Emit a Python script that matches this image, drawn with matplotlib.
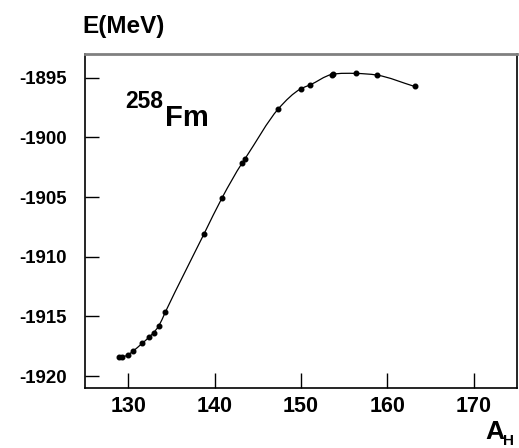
import numpy as np
import matplotlib
matplotlib.use("Agg")
import matplotlib.pyplot as plt
from matplotlib.path import Path
from matplotlib.patches import PathPatch

plt.rcParams['font.family'] = ['Liberation Sans', 'DejaVu Sans']
plt.rcParams['font.weight'] = 'bold'
plt.rcParams['axes.unicode_minus'] = False

# fragment mass number and energy
a_heavy = [128.96, 129.27, 129.96, 130.54, 131.62, 132.40, 132.94, 133.52, 134.30,
           138.79, 140.87, 143.18, 143.53, 147.39, 149.97, 151.00, 153.55, 153.70,
           156.32, 158.79, 163.14]
energy = [-1918.39, -1918.40, -1918.22, -1917.92, -1917.25, -1916.75, -1916.35, -1915.82, -1914.63,
          -1908.06, -1905.05, -1902.15, -1901.77, -1897.59, -1895.92, -1895.61, -1894.72, -1894.70,
          -1894.63, -1894.77, -1895.72]
xticks = [130, 140, 150, 160, 170]
yticks = [-1920, -1915, -1910, -1905, -1900, -1895]


def smooth_path(x, y):
    # cubic hermite segments drawn as bezier curves through the points
    x = np.asarray(x, float)
    y = np.asarray(y, float)
    m = np.gradient(y, x)
    verts = [(x[0], y[0])]
    codes = [Path.MOVETO]
    for i in range(len(x) - 1):
        h = x[i + 1] - x[i]
        verts += [(x[i] + h / 3, y[i] + m[i] * h / 3),
                  (x[i + 1] - h / 3, y[i + 1] - m[i + 1] * h / 3),
                  (x[i + 1], y[i + 1])]
        codes += [Path.CURVE4] * 3
    return Path(verts, codes)


fig = plt.figure(figsize=(5.19, 4.48), dpi=100)
ax = fig.add_axes([0.1638, 0.1339, 0.8323, 0.7456])

ax.add_patch(PathPatch(smooth_path(a_heavy, energy), facecolor='none', edgecolor='black', lw=0.9))
ax.plot(a_heavy, energy, 'o', color='black', ms=3.3, mec='black')

ax.set_xlim(125, 175)
ax.set_ylim(-1921, -1893)
ax.set_xticks(xticks)
ax.set_yticks(yticks)
ax.tick_params(axis='x', direction='in', length=11, width=1, pad=6, labelsize=15.5, top=False)
ax.tick_params(axis='y', direction='in', length=10, width=1, pad=13, labelsize=13.4, right=False)

for s in ['left', 'bottom', 'right']:
    ax.spines[s].set_linewidth(1.2)
    ax.spines[s].set_color('black')
ax.spines['top'].set_color('#808080')
ax.spines['top'].set_linewidth(2)

fig.text(82 / 519, 1 - 33 / 448, 'E(MeV)', fontsize=17.5, fontweight='bold', ha='left', va='baseline')
fig.text(125 / 519, 1 - 108 / 448, '258', fontsize=16.5, fontweight='bold', ha='left', va='baseline')
fig.text(165 / 519, 1 - 126 / 448, 'Fm', fontsize=21, fontweight='bold', ha='left', va='baseline')
fig.text(485 / 519, 1 - 439 / 448, 'A', fontsize=19, fontweight='bold', ha='left', va='baseline')
fig.text(503 / 519, 1 - 445 / 448, 'H', fontsize=11, fontweight='bold', ha='left', va='baseline')

fig.savefig('out.png', dpi=100)
